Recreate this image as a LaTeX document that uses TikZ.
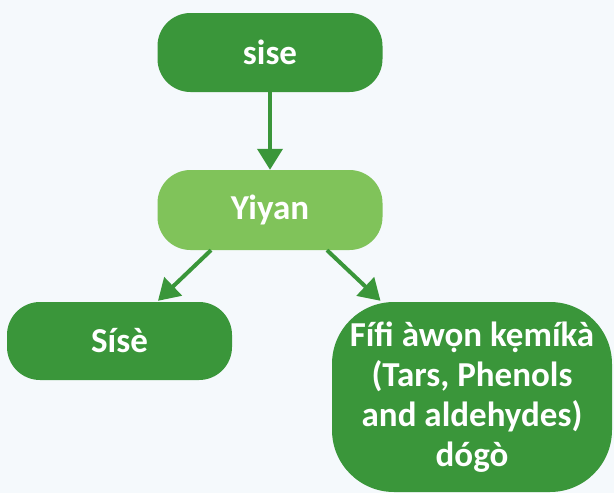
\documentclass[tikz,border=0pt]{standalone}
\usepackage{fontspec}
\setmainfont{Carlito}
\usetikzlibrary{arrows.meta,calc}
\definecolor{bg}{RGB}{245,249,252}
\definecolor{dkgreen}{RGB}{58,150,58}
\definecolor{ltgreen}{RGB}{128,195,90}
\tikzset{
  box/.style={fill=dkgreen, draw=none, text=white, font=\fontsize{35}{40}\selectfont\bfseries, align=center, inner sep=0pt},
  conn/.style={draw=dkgreen, line width=4pt, -{Triangle[length=21pt,width=25pt]}, shorten >=0pt}
}
\begin{document}
\begin{tikzpicture}[x=1pt,y=-1pt]
  \fill[bg] (0,0) rectangle (614,493);
  \useasboundingbox (0,0) rectangle (614,493);
  \node[box, minimum width=225pt, minimum height=79pt, rounded corners=33pt] (top) at (270,52.5) {sise};
  \node[box, fill=ltgreen, minimum width=225pt, minimum height=80pt, rounded corners=33pt] (yiyan) at (270,210) {Yiyan};
  \node[box, minimum width=225pt, minimum height=78pt, rounded corners=33pt] (sise2) at (119.5,341) {Sísè};
  \node[box, minimum width=280pt, minimum height=190pt, rounded corners=62pt] (fifi) at (472,397) {Fífi àwọn kẹmíkà\\(Tars, Phenols\\and aldehydes)\\dógò};
  \draw[conn] (top.south) -- (yiyan.north);
  \draw[conn] ($(yiyan.south)+(-59,0)$) -- ($(sise2.north)+(38.5,-1)$);
  \draw[conn] ($(yiyan.south)+(57,0)$) -- ($(fifi.north)+(-91.5,-1)$);
\end{tikzpicture}
\end{document}
